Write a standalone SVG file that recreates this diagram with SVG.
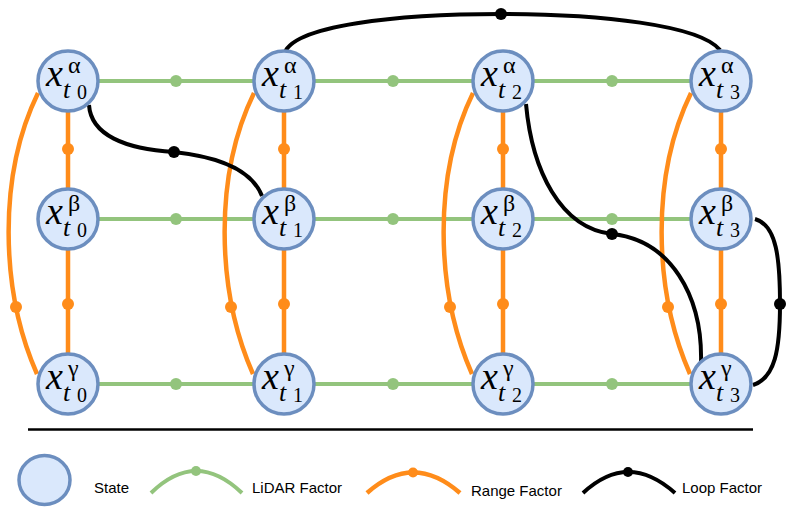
<svg xmlns="http://www.w3.org/2000/svg" width="788" height="512" viewBox="0 0 788 512">
<style>
.node{fill:#DAE8FC;stroke:#6C8EBF;stroke-width:3.5}
.lid{stroke:#93C47D;stroke-width:4;fill:none}
.rng{stroke:#FF8C1A;stroke-width:4.5;fill:none}
.lp{stroke:#000;stroke-width:4;fill:none}
.dl{fill:#93C47D}
.dr{fill:#FF8C1A}
.dk{fill:#000}
.lbl{font-family:"Liberation Serif","Times New Roman",serif;fill:#000}
.vx{font-style:italic;font-size:38px}
.vg{font-size:24px}
.vt{font-style:italic;font-size:26px}
.vd{font-size:20px}
.leg{font-family:"Liberation Sans",Arial,sans-serif;font-size:15px;fill:#000}
</style>
<g id="connectors">
<g id="lidar">
<path class="lid" d="M68,81H721M68,219H721M68,384H721"/>
<circle class="dl" cx="176" cy="81" r="6"/><circle class="dl" cx="393" cy="81" r="6"/><circle class="dl" cx="612" cy="81" r="6"/>
<circle class="dl" cx="176" cy="219" r="6"/><circle class="dl" cx="393" cy="219" r="6"/><circle class="dl" cx="612" cy="219" r="6"/>
<circle class="dl" cx="176" cy="384" r="6"/><circle class="dl" cx="393" cy="384" r="6"/><circle class="dl" cx="612" cy="384" r="6"/>
</g>
<g id="range">
<path class="rng" d="M68,81V384M284,81V384M503,81V384M721,81V384"/>
<path class="rng" d="M38,93C-2,175 0,290 37,374"/>
<path class="rng" d="M254,93C214,175 216,290 253,374"/>
<path class="rng" d="M473,93C433,175 435,290 472,374"/>
<path class="rng" d="M691,93C651,175 653,290 690,374"/>
<circle class="dr" cx="68" cy="149" r="6"/><circle class="dr" cx="284" cy="149" r="6"/><circle class="dr" cx="503" cy="149" r="6"/><circle class="dr" cx="721" cy="149" r="6"/>
<circle class="dr" cx="68" cy="304" r="6"/><circle class="dr" cx="284" cy="304" r="6"/><circle class="dr" cx="503" cy="304" r="6"/><circle class="dr" cx="721" cy="304" r="6"/>
<circle class="dr" cx="16" cy="307" r="6"/><circle class="dr" cx="231" cy="307" r="6"/><circle class="dr" cx="450" cy="307" r="6"/><circle class="dr" cx="668" cy="307" r="6"/>
</g>
<g id="loop">
<path class="lp" d="M89,105C91,135 125,149 174,152C220,157 252,170 262,196"/>
<path class="lp" d="M284,55C290,25 400,14 501,14C600,14 700,25 720,50"/>
<path class="lp" d="M526,104C532,170 560,228 612,234C670,240 703,295 701,364"/>
<path class="lp" d="M755,219C777,225 780,260 780,304C780,350 775,378 753,385"/>
<circle class="dk" cx="174" cy="152" r="6"/><circle class="dk" cx="501" cy="14" r="6"/><circle class="dk" cx="612" cy="234" r="6"/><circle class="dk" cx="780" cy="304" r="6"/>
</g>
</g>
<g id="n-a0"><circle class="node" cx="68" cy="81" r="30"/><text class="lbl"><tspan class="vx" x="46" y="86">x</tspan><tspan class="vg" x="68" y="73">α</tspan><tspan class="vt" x="63" y="98">t</tspan><tspan class="vd" x="77" y="99">0</tspan></text></g>
<g id="n-b0"><circle class="node" cx="68" cy="219" r="30"/><text class="lbl"><tspan class="vx" x="46" y="224">x</tspan><tspan class="vg" x="68" y="211">β</tspan><tspan class="vt" x="63" y="236">t</tspan><tspan class="vd" x="77" y="237">0</tspan></text></g>
<g id="n-g0"><circle class="node" cx="68" cy="384" r="30"/><text class="lbl"><tspan class="vx" x="46" y="389">x</tspan><tspan class="vg" x="68" y="376">γ</tspan><tspan class="vt" x="63" y="401">t</tspan><tspan class="vd" x="77" y="402">0</tspan></text></g>
<g id="n-a1"><circle class="node" cx="284" cy="81" r="30"/><text class="lbl"><tspan class="vx" x="262" y="86">x</tspan><tspan class="vg" x="284" y="73">α</tspan><tspan class="vt" x="279" y="98">t</tspan><tspan class="vd" x="293" y="99">1</tspan></text></g>
<g id="n-b1"><circle class="node" cx="284" cy="219" r="30"/><text class="lbl"><tspan class="vx" x="262" y="224">x</tspan><tspan class="vg" x="284" y="211">β</tspan><tspan class="vt" x="279" y="236">t</tspan><tspan class="vd" x="293" y="237">1</tspan></text></g>
<g id="n-g1"><circle class="node" cx="284" cy="384" r="30"/><text class="lbl"><tspan class="vx" x="262" y="389">x</tspan><tspan class="vg" x="284" y="376">γ</tspan><tspan class="vt" x="279" y="401">t</tspan><tspan class="vd" x="293" y="402">1</tspan></text></g>
<g id="n-a2"><circle class="node" cx="503" cy="81" r="30"/><text class="lbl"><tspan class="vx" x="481" y="86">x</tspan><tspan class="vg" x="503" y="73">α</tspan><tspan class="vt" x="498" y="98">t</tspan><tspan class="vd" x="512" y="99">2</tspan></text></g>
<g id="n-b2"><circle class="node" cx="503" cy="219" r="30"/><text class="lbl"><tspan class="vx" x="481" y="224">x</tspan><tspan class="vg" x="503" y="211">β</tspan><tspan class="vt" x="498" y="236">t</tspan><tspan class="vd" x="512" y="237">2</tspan></text></g>
<g id="n-g2"><circle class="node" cx="503" cy="384" r="30"/><text class="lbl"><tspan class="vx" x="481" y="389">x</tspan><tspan class="vg" x="503" y="376">γ</tspan><tspan class="vt" x="498" y="401">t</tspan><tspan class="vd" x="512" y="402">2</tspan></text></g>
<g id="n-a3"><circle class="node" cx="721" cy="81" r="30"/><text class="lbl"><tspan class="vx" x="699" y="86">x</tspan><tspan class="vg" x="721" y="73">α</tspan><tspan class="vt" x="716" y="98">t</tspan><tspan class="vd" x="730" y="99">3</tspan></text></g>
<g id="n-b3"><circle class="node" cx="721" cy="219" r="30"/><text class="lbl"><tspan class="vx" x="699" y="224">x</tspan><tspan class="vg" x="721" y="211">β</tspan><tspan class="vt" x="716" y="236">t</tspan><tspan class="vd" x="730" y="237">3</tspan></text></g>
<g id="n-g3"><circle class="node" cx="721" cy="384" r="30"/><text class="lbl"><tspan class="vx" x="699" y="389">x</tspan><tspan class="vg" x="721" y="376">γ</tspan><tspan class="vt" x="716" y="401">t</tspan><tspan class="vd" x="730" y="402">3</tspan></text></g>
<g id="legend">
<line x1="28" y1="429.5" x2="753" y2="429.5" stroke="#000" stroke-width="2.5"/>
<ellipse class="node" cx="44.5" cy="480" rx="25.5" ry="24.5"/>
<text class="leg" x="94" y="493">State</text>
<path class="lid" d="M151,493Q196,449 242,493"/><circle class="dl" cx="196" cy="471" r="5"/>
<text class="leg" x="252" y="493">LiDAR Factor</text>
<path class="rng" d="M367,493Q413,452 460,493"/><circle class="dr" cx="413" cy="472.5" r="5"/>
<text class="leg" x="471" y="496">Range Factor</text>
<path class="lp" d="M583,493Q628,451 675,493"/><circle class="dk" cx="628" cy="472" r="5"/>
<text class="leg" x="682" y="493">Loop Factor</text>
</g>
</svg>
